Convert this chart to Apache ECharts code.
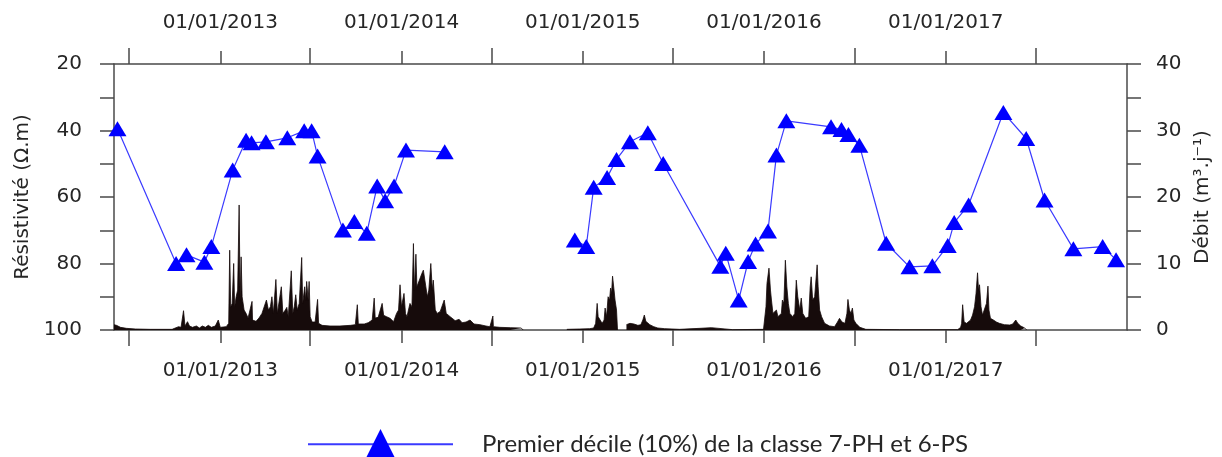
<!DOCTYPE html>
<html>
<head>
<meta charset="utf-8">
<script src="https://cdn.jsdelivr.net/npm/echarts@6/dist/echarts.min.js"></script>
<style>
  html, body { margin: 0; padding: 0; background: #fff; }
  #chart { width: 1222px; height: 457px; }
</style>
</head>
<body>
<div id="chart"></div>
<script>
// Resistivity: first decile (10%) of classes 7-PH and 6-PS, in ohm.m
const resDates = [
  '2012-06-08','2012-10-04','2012-10-25','2012-11-30','2012-12-14',
  '2013-01-26','2013-02-22','2013-03-05','2013-04-03','2013-05-16','2013-06-19','2013-07-04','2013-07-16',
  '2013-09-05','2013-09-28','2013-10-23','2013-11-13','2013-11-29','2013-12-17',
  '2014-01-10','2014-03-29','2014-08-01',
  '2014-12-16','2015-01-08','2015-01-23','2015-02-19','2015-03-10','2015-04-06','2015-05-12','2015-06-12',
  '2015-10-05','2015-10-16','2015-11-11','2015-11-30','2015-12-15',
  '2016-01-09','2016-01-26','2016-02-15','2016-05-15','2016-06-05','2016-06-19','2016-07-11',
  '2016-09-03','2016-10-20','2016-12-05',
  '2017-01-05','2017-01-18','2017-02-16','2017-04-27','2017-06-12','2017-07-19','2017-09-15','2017-11-13','2017-12-10'
];
const resValues = [
  39.5, 80.0, 77.4, 79.6, 74.9,
  51.9, 42.9, 43.7, 43.4, 42.2, 40.1, 40.1, 47.7,
  69.9, 67.4, 70.9, 56.7, 61.1, 56.7,
  45.9, 46.4, null,
  72.9, 74.9, 57.1, 54.1, 48.7, 43.4, 40.7, 49.9,
  80.8, 76.9, 91.0, 79.4, 74.1,
  70.2, 47.4, 37.1, 38.9, 39.7, 41.2, 44.4,
  73.9, 81.0, 80.7,
  74.6, 67.7, 62.4, 34.6, 42.4, 60.9, 75.6, 74.9, 78.9
];

// Daily discharge hydrograph (m3/day), peaks and troughs
const flowDates = [
  '2012-06-01','2012-06-06','2012-06-14','2012-06-26','2012-07-14','2012-08-13','2012-09-26','2012-09-30',
  '2012-10-09','2012-10-14','2012-10-19','2012-10-22','2012-10-27','2012-10-31','2012-11-06','2012-11-14',
  '2012-11-20','2012-11-26','2012-12-02','2012-12-08','2012-12-14','2012-12-22','2012-12-28',
  '2013-01-01','2013-01-13','2013-01-18','2013-01-20','2013-01-22','2013-01-25','2013-01-28','2013-01-30',
  '2013-02-02','2013-02-05','2013-02-08','2013-02-10','2013-02-12','2013-02-14','2013-02-18','2013-02-22',
  '2013-02-26','2013-03-02','2013-03-06','2013-03-07','2013-03-14','2013-03-20','2013-03-26','2013-03-30',
  '2013-04-04','2013-04-08','2013-04-12','2013-04-15','2013-04-18','2013-04-23','2013-04-26','2013-04-30',
  '2013-05-04','2013-05-07','2013-05-12','2013-05-15','2013-05-18','2013-05-24','2013-05-27','2013-05-30',
  '2013-06-02','2013-06-05','2013-06-09','2013-06-14','2013-06-16','2013-06-20','2013-06-22','2013-06-24',
  '2013-06-27','2013-06-29','2013-07-01','2013-07-05','2013-07-11','2013-07-16','2013-07-18','2013-07-25',
  '2013-08-10','2013-08-30','2013-09-20','2013-09-30','2013-10-04','2013-10-06','2013-10-18','2013-10-26',
  '2013-11-03','2013-11-07','2013-11-09','2013-11-15','2013-11-19','2013-11-23','2013-11-26','2013-12-02',
  '2013-12-09','2013-12-16','2013-12-22','2013-12-26','2013-12-29',
  '2014-01-01','2014-01-06','2014-01-09','2014-01-12','2014-01-18','2014-01-22','2014-01-25','2014-01-27',
  '2014-01-30','2014-02-01','2014-02-05','2014-02-11','2014-02-14','2014-02-17','2014-02-22','2014-02-25',
  '2014-03-01','2014-03-04','2014-03-06','2014-03-10','2014-03-14','2014-03-20','2014-03-24','2014-03-28',
  '2014-04-01','2014-04-09','2014-04-19','2014-04-27','2014-05-03','2014-05-11','2014-05-19','2014-05-27',
  '2014-06-08','2014-06-20','2014-06-28','2014-07-04','2014-07-05','2014-07-18','2014-08-08','2014-08-30',
  '2014-09-03','2014-10-15','2014-11-30','2014-12-26',
  '2015-01-15','2015-01-23','2015-01-27','2015-01-30','2015-02-01','2015-02-05','2015-02-09','2015-02-13',
  '2015-02-15','2015-02-18','2015-02-21','2015-02-24','2015-02-26','2015-02-28','2015-03-02','2015-03-05',
  '2015-03-07','2015-03-10','2015-03-12','2015-03-20','2015-03-30','2015-04-06','2015-04-14','2015-04-22',
  '2015-04-28','2015-05-02','2015-05-05','2015-05-08','2015-05-16','2015-05-24','2015-06-01','2015-06-15',
  '2015-07-15','2015-08-25','2015-08-29','2015-09-17','2015-09-20','2015-10-30','2015-12-31',
  '2016-01-05','2016-01-07','2016-01-11','2016-01-14','2016-01-16','2016-01-19','2016-01-23','2016-01-26',
  '2016-01-29','2016-02-02','2016-02-05','2016-02-07','2016-02-10','2016-02-13','2016-02-16','2016-02-19',
  '2016-02-22','2016-02-28','2016-03-03','2016-03-06','2016-03-09','2016-03-13','2016-03-16','2016-03-19',
  '2016-03-25','2016-03-31','2016-04-03','2016-04-05','2016-04-08','2016-04-12','2016-04-17','2016-04-19',
  '2016-04-22','2016-04-26','2016-05-02','2016-05-12','2016-05-22','2016-05-28','2016-06-01','2016-06-06',
  '2016-06-12','2016-06-16','2016-06-18','2016-06-21','2016-06-24','2016-06-27','2016-06-30','2016-07-04',
  '2016-07-12','2016-07-18','2016-07-24','2016-09-30',
  '2017-01-25','2017-01-31','2017-02-02','2017-02-04','2017-02-07','2017-02-12','2017-02-16','2017-02-20',
  '2017-02-24','2017-02-28','2017-03-03','2017-03-06','2017-03-08','2017-03-10','2017-03-13','2017-03-16',
  '2017-03-20','2017-03-24','2017-03-27','2017-03-29','2017-04-01','2017-04-07','2017-04-13','2017-04-19',
  '2017-04-29','2017-05-10','2017-05-16','2017-05-22','2017-05-26','2017-06-01','2017-06-09','2017-06-13'
];
const flowValues = [
  0.8, 0.7, 0.4, 0.25, 0.15, 0.1, 0.1, 0.4,
  0.5, 0.4, 2.9, 0.6, 1.25, 0.6, 0.4, 0.6,
  0.3, 0.6, 0.4, 0.7, 0.4, 0.6, 1.5,
  0.4, 0.5, 1.0, 12.0, 3.5, 4.0, 10.0, 3.5,
  5.0, 6.0, 18.8, 4.5, 11.0, 5.0, 3.0, 2.5,
  1.8, 1.5, 4.3, 1.5, 1.3, 1.8, 2.5, 2.2,
  4.5, 3.0, 3.5, 5.0, 2.5, 7.6, 2.5, 2.8,
  6.5, 2.5, 3.0, 3.4, 2.0, 8.9, 2.5, 3.5,
  5.3, 3.0, 4.0, 10.9, 4.0, 6.5, 4.5, 7.3,
  4.5, 7.3, 2.0, 1.2, 1.2, 4.6, 1.0, 0.7,
  0.6, 0.6, 0.7, 0.8, 3.8, 0.9, 0.9, 1.1,
  1.5, 4.8, 1.8, 1.9, 2.0, 4.0, 2.2, 2.0,
  1.75, 1.25, 2.5, 3.0, 6.8,
  3.5, 5.5, 2.5, 2.0, 4.0, 3.5, 13.0, 6.0,
  11.4, 6.5, 6.5, 8.5, 9.0, 7.5, 5.0, 6.0,
  10.0, 6.0, 7.5, 3.0, 2.5, 2.8, 3.0, 4.5,
  2.5, 2.0, 1.4, 1.6, 1.1, 1.2, 1.5, 0.9,
  0.8, 0.6, 0.5, 2.1, 0.5, 0.4, 0.35, 0.3,
  0, null, 0.1, 0.15,
  0.2, 0.3, 1.0, 4.0, 2.0, 2.0, 1.0, 1.5,
  3.3, 2.0, 5.0, 4.5, 6.3, 5.5, 8.1, 6.0,
  4.5, 3.0, 0, null, 0.8, 1.0, 0.9, 0.7,
  0.8, 1.5, 2.25, 1.3, 0.8, 0.5, 0.3, 0.2,
  0.1, 0.25, 0.1, 0.35, 0.1, 0.05, 0.1,
  3.5, 7.0, 9.3, 6.0, 4.5, 2.5, 2.5, 3.0,
  2.0, 1.75, 2.5, 4.5, 4.0, 10.5, 6.5, 4.0,
  2.5, 2.0, 2.5, 7.5, 5.0, 3.0, 4.8, 2.5,
  1.75, 2.0, 6.5, 8.0, 4.5, 5.0, 9.8, 6.5,
  3.0, 2.0, 1.0, 0.6, 0.5, 1.2, 1.75, 1.2,
  1.0, 2.5, 4.6, 3.0, 2.5, 3.3, 1.5, 1.0,
  0.4, 0.25, 0.1, 0.05,
  0.05, 0.4, 1.0, 3.8, 1.2, 1.0, 1.0, 1.5,
  2.25, 3.5, 5.5, 8.6, 6.0, 6.8, 3.5, 2.25,
  2.5, 4.0, 6.6, 3.0, 1.75, 1.5, 1.2, 1.0,
  0.8, 0.75, 0.9, 1.5, 1.0, 0.6, 0.3, 0
];

// Date axis: long ticks on 1 July, shorter ticks and labels on 1 January
const axisStart = '2012-06-01';
const axisEnd = '2018-01-01';
const midYearTicks = ['2012-07-01','2013-07-01','2014-07-01','2015-07-01','2016-07-01','2017-07-01'];
const labelDates = ['2013-01-01','2014-01-01','2015-01-01','2016-01-01','2017-01-01'];

const seriesName = 'Premier décile (10%) de la classe 7-PH et 6-PS';

function toTime(s) {
  const p = s.split('-').map(Number);
  return Date.UTC(p[0], p[1] - 1, p[2]);
}
function pad(n) { return (n < 10 ? '0' : '') + n; }
function fmtDate(v) {
  const d = new Date(v);
  return pad(d.getUTCDate()) + '/' + pad(d.getUTCMonth() + 1) + '/' + d.getUTCFullYear();
}

const axisColor = '#4a4a4a';
const textColor = '#262626';
const axisFont = '"DejaVu Sans", sans-serif';

// Dates are carried as millisecond timestamps on a numeric axis
function dateAxis(position, withLabels) {
  return {
    type: 'value',
    position: position,
    min: toTime(axisStart),
    max: toTime(axisEnd),
    scale: true,
    axisLine: { show: withLabels, onZero: false, lineStyle: { color: axisColor, width: 1.5 } },
    axisTick: {
      show: true,
      length: withLabels ? 13 : 16,
      customValues: (withLabels ? labelDates : midYearTicks).map(toTime),
      lineStyle: { color: axisColor, width: 1.5 }
    },
    axisLabel: {
      show: withLabels, customValues: labelDates.map(toTime), formatter: fmtDate,
      margin: 31, fontSize: 20, color: textColor, fontFamily: axisFont
    },
    splitLine: { show: false }
  };
}

const chart = echarts.init(document.getElementById('chart'), null, { renderer: 'canvas' });

chart.setOption({
  animation: false,
  backgroundColor: '#ffffff',
  grid: { left: 114, right: 95, top: 64, bottom: 127, containLabel: false },
  legend: {
    data: [seriesName],
    left: 302,
    top: 424,
    itemWidth: 145,
    itemHeight: 38,
    textStyle: { fontSize: 24, fontFamily: 'Lato, sans-serif', color: textColor, padding: [0, 0, 0, 24] }
  },
  xAxis: [
    dateAxis('bottom', true),
    dateAxis('top', true),
    dateAxis('bottom', false),
    dateAxis('top', false)
  ],
  yAxis: [
    {
      type: 'value',
      position: 'left',
      inverse: true,
      min: 20, max: 100, interval: 10,
      name: 'Résistivité (Ω.m)',
      nameLocation: 'middle',
      nameRotate: 90,
      nameGap: 74,
      nameTextStyle: { fontSize: 20, color: textColor, fontFamily: axisFont },
      axisLine: { show: true, lineStyle: { color: axisColor, width: 1.5 } },
      axisTick: { show: true, length: 14, lineStyle: { color: axisColor, width: 1.5 } },
      axisLabel: {
        margin: 32, fontSize: 20, color: textColor, fontFamily: axisFont,
        formatter: v => (v % 20 === 0 ? String(v) : '')
      },
      splitLine: { show: false }
    },
    {
      type: 'value',
      position: 'right',
      min: 0, max: 40, interval: 5,
      name: 'Débit (m³.j⁻¹)',
      nameLocation: 'middle',
      nameRotate: 90,
      nameGap: 66,
      nameTextStyle: { fontSize: 20, color: textColor, fontFamily: axisFont },
      axisLine: { show: true, lineStyle: { color: axisColor, width: 1.5 } },
      axisTick: { show: true, length: 14, lineStyle: { color: axisColor, width: 1.5 } },
      axisLabel: {
        margin: 29, fontSize: 20, color: textColor, fontFamily: axisFont,
        formatter: v => (v % 10 === 0 ? String(v) : '')
      },
      splitLine: { show: false }
    }
  ],
  series: [
    {
      name: 'Débit',
      type: 'line',
      xAxisIndex: 0,
      yAxisIndex: 1,
      data: flowDates.map((d, i) => [toTime(d), flowValues[i] === null ? '-' : flowValues[i]]),
      showSymbol: false,
      symbol: 'none',
      connectNulls: false,
      sampling: false,
      lineStyle: { color: '#160b0b', width: 0.8 },
      areaStyle: { color: '#160b0b', opacity: 1 },
      z: 2,
      silent: true
    },
    {
      name: seriesName,
      type: 'line',
      xAxisIndex: 0,
      yAxisIndex: 0,
      data: resDates.map((d, i) => [toTime(d), resValues[i] === null ? '-' : resValues[i]]),
      connectNulls: false,
      symbol: 'triangle',
      symbolSize: [18, 15],
      showAllSymbol: true,
      clip: false,
      lineStyle: { color: '#3a3aff', width: 1.2 },
      itemStyle: { color: '#0000ff' },
      z: 3
    }
  ]
});
</script>
</body>
</html>
